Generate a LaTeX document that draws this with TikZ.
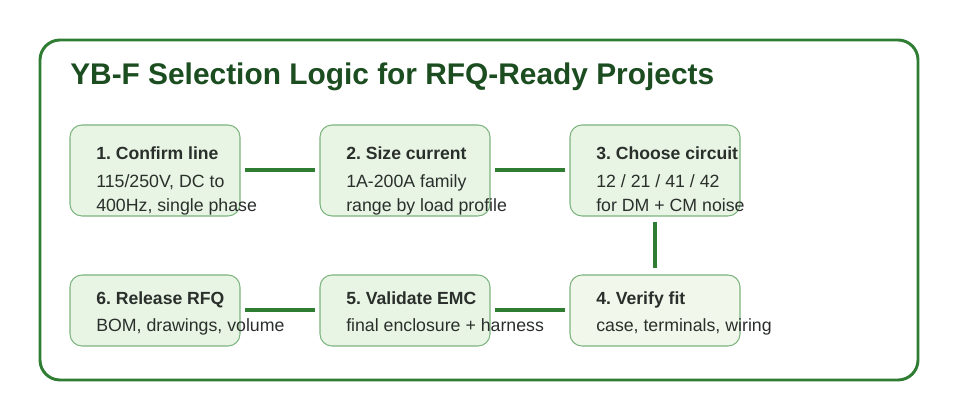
\documentclass[tikz,border=0pt]{standalone}
\usepackage{fontspec}
\setmainfont{Liberation Sans}
\usetikzlibrary{calc}
\definecolor{frame}{HTML}{2E7D32}
\definecolor{titlegreen}{HTML}{1B4D20}
\definecolor{boxline}{HTML}{7DB47F}
\definecolor{boxfill}{HTML}{E8F5E4}
\definecolor{boxfilllight}{HTML}{F1F7EA}
\definecolor{ink}{HTML}{2B2F2C}
\begin{document}
\frenchspacing
\begin{tikzpicture}[x=0.75pt,y=-0.75pt]
		\tikzstyle{stepbox}=[draw=boxline,line width=0.8pt,rounded corners=9pt]
		\tikzstyle{head}=[anchor=base west,inner sep=0pt,font=\bfseries\fontsize{13.2pt}{15pt}\selectfont,text=ink]
		\tikzstyle{body}=[anchor=base west,inner sep=0pt,font=\fontsize{13.3pt}{15pt}\selectfont,text=ink]
		\tikzstyle{link}=[draw=frame,line width=3.2pt,shorten >=3.75pt,shorten <=3.75pt]

		\useasboundingbox (0,0) rectangle (960,420);

		% frame and title
		\draw[frame,line width=2.2pt,rounded corners=15pt,fill=white] (40,40) rectangle (918,380);
		\node[anchor=base west,inner sep=0pt,text=titlegreen,font=\bfseries\fontsize{22.4pt}{26pt}\selectfont] (title) at (70,85) {YB-F Selection Logic for RFQ-Ready Projects};

		% top row
		\foreach \name/\x/\head/\la/\lb in {
			s1/70/{1. Confirm line}/{115/250V, DC to}/{400Hz, single phase},
			s2/320/{2. Size current}/{1A-200A family}/{range by load profile},
			s3/570/{3. Choose circuit}/{12 / 21 / 41 / 42}/{for DM + CM noise}}
		{
			\draw[stepbox,fill=boxfill] (\x,125) rectangle ++(170,91);
			\node[head] (\name-h) at (\x+26,160) {\head};
			\node[body] (\name-a) at (\x+26,188) {\la};
			\node[body] (\name-b) at (\x+26,212) {\lb};
		}

		% bottom row
		\foreach \name/\x/\bg/\head/\la in {
			s6/70/boxfill/{6. Release RFQ}/{BOM, drawings, volume},
			s5/320/boxfill/{5. Validate EMC}/{final enclosure + harness},
			s4/570/boxfilllight/{4. Verify fit}/{case, terminals, wiring}}
		{
			\draw[stepbox,fill=\bg] (\x,275) rectangle ++(170,71);
			\node[head] (\name-h) at (\x+26,305) {\head};
			\node[body] (\name-a) at (\x+26,331) {\la};
		}

		% links
		\coordinate (s1e) at (240,170); \coordinate (s2w) at (320,170);
		\coordinate (s2e) at (490,170); \coordinate (s3w) at (570,170);
		\coordinate (s3s) at (655,217); \coordinate (s4n) at (655,273);
		\coordinate (s6e) at (240,310); \coordinate (s5w) at (320,310);
		\coordinate (s5e) at (490,310); \coordinate (s4w) at (570,310);
		\foreach \a/\b in {s1e/s2w, s2e/s3w, s3s/s4n, s6e/s5w, s5e/s4w}
			\draw[link] (\a) -- (\b);
	\end{tikzpicture}
\end{document}
